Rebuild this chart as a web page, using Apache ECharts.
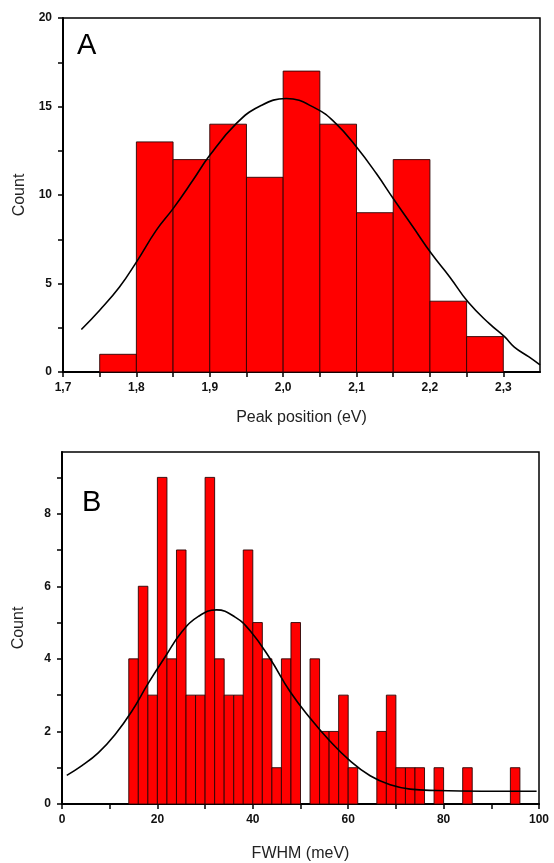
<!DOCTYPE html>
<html>
	<head>
		<meta charset="utf-8">
		<title>Peak position / FWHM histograms</title>
	</head>
	<style type="text/css">
		* {
			margin: 0;
			padding: 0;
		}

		#chart-container {
			position: relative;
			width: 554px;
			height: 863px;
			overflow: hidden;
			background: #fff;
		}
	</style>
	<body>
		<div id="chart-container"></div>
		<script src="https://cdn.jsdelivr.net/npm/echarts@6/dist/echarts.min.js"></script>
	</body>
	<script type="text/javascript">
		// panel A: peak position histogram (bin start, eV)
		var binStartA = [1.75, 1.8, 1.85, 1.9, 1.95, 2.0, 2.05, 2.1, 2.15, 2.2, 2.25];
		var countA = [1, 13, 12, 14, 11, 17, 14, 9, 12, 4, 2];
		var binWidthA = 0.05;
		// gaussian fit
		var fitAx = [1.725, 1.75, 1.777, 1.8, 1.827, 1.85, 1.877, 1.9, 1.936, 1.968, 2.004,
			2.045, 2.072, 2.1, 2.127, 2.15, 2.177, 2.202, 2.227, 2.252, 2.281, 2.302, 2.315, 2.335, 2.35];
		var fitAy = [2.40, 3.49, 4.80, 6.21, 8.00, 9.23, 10.83, 12.24, 14.03, 15.01, 15.45,
			14.88, 14.03, 12.71, 11.21, 9.80, 8.19, 6.69, 5.37, 3.95, 2.73, 1.98, 1.41, 0.85, 0.40];
		var xLabelsA = [1.7, 1.8, 1.9, 2.0, 2.1, 2.2, 2.3];
		var xTicksA = [1.7, 1.75, 1.8, 1.85, 1.9, 1.95, 2.0, 2.05, 2.1, 2.15, 2.2, 2.25, 2.3];
		var yLabelsA = [0, 5, 10, 15, 20];
		var yTicksA = [0, 2.5, 5, 7.5, 10, 12.5, 15, 17.5, 20];

		// panel B: FWHM histogram (bin start, meV)
		var binStartB = [14, 16, 18, 20, 22, 24, 26, 28, 30, 32, 34, 36, 38, 40, 42, 44, 46, 48,
			52, 54, 56, 58, 60, 66, 68, 70, 72, 74, 78, 84, 94];
		var countB = [4, 6, 3, 9, 4, 7, 3, 3, 9, 4, 3, 3, 7, 5, 4, 1, 4, 5,
			4, 2, 2, 3, 1, 2, 3, 1, 1, 1, 1, 1, 1];
		var binWidthB = 2;
		var fitBx = [1.0, 4.1, 7.6, 11.1, 14.6, 18.1, 21.6, 25.1, 28.6, 32.4, 36.3, 39.4,
			43.6, 47.8, 52.0, 56.2, 60.4, 64.6, 68.8, 73.0, 78.6, 88.0, 99.5];
		var fitBy = [0.79, 1.05, 1.41, 1.91, 2.55, 3.33, 4.05, 4.74, 5.17, 5.35, 5.15, 4.78,
			4.01, 3.10, 2.37, 1.73, 1.19, 0.78, 0.53, 0.41, 0.37, 0.35, 0.35];
		var xLabelsB = [0, 20, 40, 60, 80, 100];
		var xTicksB = [0, 10, 20, 30, 40, 50, 60, 70, 80, 90, 100];
		var yLabelsB = [0, 2, 4, 6, 8];
		var yTicksB = [0, 1, 2, 3, 4, 5, 6, 7, 8, 9];

		function binData(starts, counts, w) {
			return starts.map(function(s, i) {
				return [s, s + w, counts[i]];
			});
		}

		function pairs(xs, ys) {
			return xs.map(function(x, i) {
				return [x, ys[i]];
			});
		}

		function renderBin(params, api) {
			var p0 = api.coord([api.value(0), api.value(2)]);
			var p1 = api.coord([api.value(1), 0]);
			return {
				type: 'rect',
				shape: {
					x: p0[0],
					y: p0[1],
					width: p1[0] - p0[0],
					height: p1[1] - p0[1]
				},
				style: {
					fill: '#ff0000',
					stroke: '#2a0505',
					lineWidth: 0.9
				}
			};
		}

		var font = 'Liberation Sans';
		var tickLabel = {
			color: '#111',
			fontSize: 12,
			fontWeight: 'bold',
			fontFamily: font
		};
		var nameStyle = {
			color: '#222',
			fontSize: 16,
			fontFamily: font
		};
		var axisLine = {
			show: true,
			onZero: false,
			lineStyle: {
				color: '#000',
				width: 2
			}
		};

		function xAxisOf(idx, min, max, labels, ticks, name, gap, fmt) {
			return {
				type: 'value',
				gridIndex: idx,
				min: min,
				max: max,
				name: name,
				nameLocation: 'middle',
				nameGap: gap,
				nameTextStyle: nameStyle,
				axisLine: axisLine,
				axisTick: {
					show: true,
					length: 5,
					customValues: ticks,
					lineStyle: {
						color: '#000',
						width: 1.5
					}
				},
				axisLabel: Object.assign({
					margin: 10,
					customValues: labels,
					formatter: fmt
				}, tickLabel),
				splitLine: {
					show: false
				}
			};
		}

		function yAxisOf(idx, min, max, labels, ticks) {
			return {
				type: 'value',
				gridIndex: idx,
				min: min,
				max: max,
				name: 'Count',
				nameLocation: 'middle',
				nameGap: 35,
				nameTextStyle: nameStyle,
				axisLine: axisLine,
				axisTick: {
					show: true,
					length: 5,
					customValues: ticks,
					lineStyle: {
						color: '#000',
						width: 1.5
					}
				},
				axisLabel: Object.assign({
					margin: 11,
					customValues: labels
				}, tickLabel),
				splitLine: {
					show: false
				}
			};
		}

		var dom = document.getElementById('chart-container');
		var myChart = echarts.init(dom, null, {
			renderer: 'canvas'
		});

		var option = {
			backgroundColor: '#fff',
			animation: false,
			graphic: [{
					type: 'text',
					left: 77,
					top: 31,
					style: {
						text: 'A',
						fontSize: 29,
						fontFamily: font,
						fill: '#000'
					}
				},
				{
					type: 'text',
					left: 82,
					top: 488,
					style: {
						text: 'B',
						fontSize: 29,
						fontFamily: font,
						fill: '#000'
					}
				}
			],
			grid: [{
					left: 63,
					right: 14,
					top: 18,
					height: 354,
					show: true,
					borderColor: '#000',
					borderWidth: 1.5
				},
				{
					left: 62,
					right: 15,
					top: 452,
					height: 355,
					show: true,
					borderColor: '#000',
					borderWidth: 1.5
				}
			],
			xAxis: [
				xAxisOf(0, 1.7, 2.35, xLabelsA, xTicksA, 'Peak position (eV)', 38, function(v) {
					return v.toFixed(1).replace('.', ',');
				}),
				xAxisOf(1, 0, 100, xLabelsB, xTicksB, 'FWHM (meV)', 42, function(v) {
					return String(v);
				})
			],
			yAxis: [
				yAxisOf(0, 0, 20, yLabelsA, yTicksA),
				yAxisOf(1, 0, 9.7, yLabelsB, yTicksB)
			],
			series: [{
					type: 'custom',
					xAxisIndex: 0,
					yAxisIndex: 0,
					renderItem: renderBin,
					encode: {
						x: [0, 1],
						y: 2
					},
					data: binData(binStartA, countA, binWidthA)
				},
				{
					type: 'line',
					xAxisIndex: 0,
					yAxisIndex: 0,
					smooth: 0.45,
					showSymbol: false,
					lineStyle: {
						color: '#000',
						width: 1.6
					},
					data: pairs(fitAx, fitAy),
					z: 5
				},
				{
					type: 'custom',
					xAxisIndex: 1,
					yAxisIndex: 1,
					renderItem: renderBin,
					encode: {
						x: [0, 1],
						y: 2
					},
					data: binData(binStartB, countB, binWidthB)
				},
				{
					type: 'line',
					xAxisIndex: 1,
					yAxisIndex: 1,
					smooth: 0.45,
					showSymbol: false,
					lineStyle: {
						color: '#000',
						width: 1.6
					},
					data: pairs(fitBx, fitBy),
					z: 5
				}
			]
		};

		myChart.setOption(option);

		window.addEventListener('resize', myChart.resize);
	</script>
</html>
